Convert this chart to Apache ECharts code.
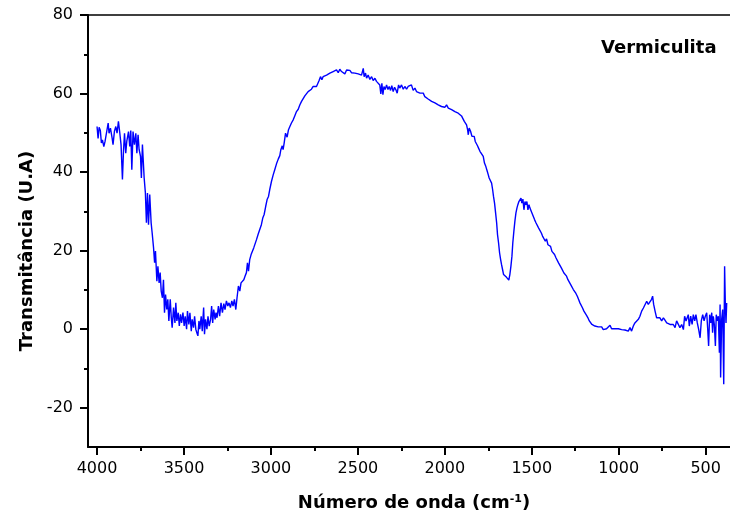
<!DOCTYPE html>
<html>
<head>
<meta charset="utf-8">
<script src="https://cdn.jsdelivr.net/npm/echarts@6/dist/echarts.min.js"></script>
<style>
html,body{margin:0;padding:0;background:#fff;}
#chart{width:730px;height:517px;}
</style>
</head>
<body>
<div id="chart"></div>
<script>
const wavenumber = [
4000,3994,3988,3981,3975,3969,3961,3954,3946,3936,3931,3923,3913,3908,3900,3892,3885,3877,3869,3862,
3854,3848,3842,3835,3829,3819,3812,3806,3800,3793,3785,3777,3771,3764,3758,3750,3745,3739,3735,3729,
3722,3716,3710,3704,3697,3689,3683,3675,3669,3664,3656,3650,3643,3637,3631,3624,3618,3612,3606,3599,
3593,3587,3579,3573,3568,3560,3552,3547,3541,3533,3527,3520,3514,3506,3499,3493,3485,3480,3472,3466,
3458,3453,3445,3439,3432,3426,3420,3414,3409,3401,3395,3387,3382,3376,3368,3362,3355,3347,3341,3335,
3329,3321,3316,3310,3302,3295,3287,3279,3271,3264,3256,3248,3241,3233,3225,3218,3210,3202,3195,3187,
3179,3172,3164,3156,3149,3141,3135,3129,3122,3114,3106,3099,3091,3083,3074,3064,3055,3047,3039,3030,
3022,3014,3007,2997,2987,2978,2968,2958,2949,2943,2935,2930,2924,2916,2907,2899,2891,2882,2872,2863,
2853,2843,2834,2824,2815,2805,2795,2786,2776,2767,2757,2747,2738,2728,2723,2715,2707,2700,2690,2680,
2671,2661,2652,2642,2632,2623,2613,2604,2594,2585,2575,2565,2556,2546,2537,2527,2517,2508,2498,2489,
2479,2469,2464,2456,2450,2441,2431,2421,2412,2402,2393,2383,2374,2368,2362,2356,2350,2343,2335,2327,
2320,2312,2305,2297,2289,2282,2274,2266,2259,2249,2239,2230,2220,2211,2201,2192,2182,2172,2163,2153,
2143,2134,2124,2115,2105,2096,2086,2076,2067,2057,2048,2038,2028,2019,2009,2000,1990,1980,1971,1961,
1952,1942,1932,1923,1913,1904,1894,1888,1881,1875,1869,1865,1860,1852,1844,1837,1831,1825,1817,1812,
1806,1798,1789,1779,1772,1764,1756,1750,1745,1737,1731,1725,1720,1714,1708,1702,1697,1691,1685,1679,
1674,1668,1662,1655,1645,1637,1632,1626,1620,1614,1609,1603,1597,1591,1585,1580,1574,1568,1562,1557,
1551,1545,1539,1534,1528,1522,1516,1511,1505,1499,1492,1484,1476,1468,1461,1453,1445,1438,1430,1422,
1415,1407,1399,1392,1384,1376,1369,1361,1353,1346,1338,1330,1323,1315,1307,1300,1292,1284,1277,1269,
1261,1254,1246,1238,1231,1223,1215,1208,1200,1192,1185,1177,1169,1162,1154,1146,1137,1127,1118,1108,
1098,1089,1079,1070,1060,1050,1041,1031,1022,1012,1002,993,983,974,964,954,945,935,926,916,
907,897,887,878,868,858,849,839,830,820,811,805,799,791,782,772,763,753,743,734,
724,715,705,696,686,676,667,657,648,638,628,621,613,605,600,594,586,578,571,563,
556,548,540,532,525,517,509,502,494,488,483,477,471,465,460,456,450,444,439,433,
427,421,417,414,408,402,396,391,387,383,379
];
const transmittance = [
51.6,48.6,51.4,50.6,47.4,48.2,46.5,47.8,47.5,52.5,49.9,51.2,48.6,47.0,50.4,51.6,49.9,52.9,49.9,47.0,
38.1,45.3,49.9,44.8,47.8,50.3,46.5,50.6,40.6,50.3,47.0,49.9,44.8,49.5,45.7,44.0,38.5,47.0,43.6,38.5,
34.7,27.1,34.7,26.6,34.3,27.1,24.5,20.7,16.9,19.9,12.2,16.0,11.8,14.4,9.7,8.0,12.6,4.2,8.8,5.0,
7.6,2.1,7.6,2.9,0.4,5.5,1.6,6.7,2.1,4.2,0.8,3.8,1.6,4.2,0.8,3.3,0.0,4.6,1.2,4.2,
-0.5,2.5,0.4,3.3,0.0,-0.9,-1.7,2.1,0.0,3.3,-0.5,5.5,-1.3,2.5,0.0,3.3,0.8,2.5,5.9,1.6,
5.0,2.5,4.2,2.9,5.9,3.3,6.7,4.2,6.5,5.0,7.2,5.9,6.7,5.5,7.2,5.9,7.6,5.0,8.0,11.0,
9.7,11.8,12.2,12.6,13.5,14.4,16.9,14.8,17.7,19.0,18.6,20.7,21.1,22.8,24.1,24.5,26.6,28.3,29.2,31.3,
33.0,33.8,35.5,37.6,39.3,40.6,42.1,43.3,44.2,45.7,46.7,45.7,47.4,49.9,48.9,50.8,51.6,52.5,53.3,54.3,
55.4,56.0,57.1,58.0,58.4,59.4,59.7,60.5,60.8,61.1,61.8,62.0,61.8,62.2,63.3,64.3,63.5,64.3,63.9,64.7,
64.5,65.2,64.7,65.6,65.2,66.0,65.3,66.2,65.6,65.9,65.0,66.0,65.6,65.9,65.3,65.8,65.2,65.6,65.0,65.3,
64.7,66.4,64.3,65.2,63.9,64.7,63.6,64.3,63.3,63.9,63.1,63.5,62.2,59.9,62.6,59.7,61.8,61.0,62.2,61.0,
61.8,60.8,62.0,60.5,61.6,61.0,60.1,62.2,61.4,62.2,61.1,61.8,61.1,61.8,61.4,62.2,60.8,61.4,60.5,60.3,
60.1,59.7,60.1,59.2,59.1,58.6,58.8,58.0,58.2,57.6,57.7,57.1,57.4,56.7,56.9,56.5,57.1,56.3,56.7,55.9,
56.0,55.4,55.7,55.0,55.2,54.3,54.2,52.9,53.1,52.0,50.8,49.5,51.2,50.4,49.1,48.7,49.1,47.8,47.4,46.7,
46.1,45.3,44.8,44.0,42.3,41.4,40.2,39.3,38.5,38.1,37.2,35.5,33.8,32.1,29.6,27.1,24.1,22.0,19.4,17.7,
16.5,15.2,13.9,13.5,13.2,13.1,12.5,13.9,16.0,18.6,22.0,24.9,27.5,29.6,30.9,31.7,32.5,33.0,33.4,32.1,
33.1,30.4,32.5,31.7,32.5,30.4,31.7,30.9,31.3,29.6,29.2,27.9,27.1,27.5,25.8,25.4,24.5,23.7,23.5,22.4,
23.0,21.5,21.1,21.1,19.8,19.4,19.0,18.2,17.7,16.9,16.5,15.6,15.2,14.3,14.5,13.5,12.6,12.2,11.4,11.0,
10.1,9.7,9.1,8.4,7.6,6.7,6.3,5.4,4.6,4.2,3.5,2.9,2.1,1.6,1.2,1.0,0.8,0.5,0.6,0.2,
0.6,-0.1,-0.5,0.1,0.6,1.0,0.1,0.4,0.1,0.6,0.1,0.4,-0.1,0.4,-0.2,0.1,-0.5,0.4,-0.5,0.8,
1.6,2.0,2.5,3.3,4.6,5.4,5.9,7.1,6.3,6.7,7.6,8.4,6.3,4.6,2.9,2.5,2.9,2.1,2.9,2.3,
1.6,2.1,1.2,0.8,1.2,0.4,2.1,2.5,0.4,1.2,-0.1,3.3,2.1,2.5,3.7,0.8,3.3,1.2,3.7,2.1,
3.7,1.6,-0.1,-2.2,2.1,3.7,2.1,3.3,4.2,-0.1,-4.3,3.7,1.6,4.2,-0.9,3.3,1.2,-4.3,3.7,2.1,
3.3,-6.0,6.3,-12.3,2.5,5.0,-14.0,16.0,6.7,1.6,6.7
];
const xMajorTicks = [4000, 3500, 3000, 2500, 2000, 1500, 1000, 500];
const xMinorTicks = [3750, 3250, 2750, 2250, 1750, 1250, 750];
const yMajorTicks = [-20, 0, 20, 40, 60, 80];
const yMinorTicks = [-10, 10, 30, 50, 70];
const xTitle = 'Número de onda (cm{s|-1})';
const yTitle = 'Transmitância (U.A)';
const sampleName = 'Vermiculita';

const FONT = 'DejaVu Sans';
const X_MIN = 360, X_MAX = 4052, Y_MIN = -30, Y_MAX = 80;

const chart = echarts.init(document.getElementById('chart'), null, {renderer: 'canvas'});
const black = '#000';
const plain = v => String(v);
const option = {
  animation: false,
  backgroundColor: '#fff',
  title: {
    text: sampleName, left: 601, top: 39, padding: 0,
    textStyle: {fontFamily: FONT, fontWeight: 'bold', fontSize: 18, color: black}
  },
  grid: {left: 88, top: 15, right: 0, bottom: 70},
  xAxis: [
    {
      type: 'value', min: X_MIN, max: X_MAX, inverse: true, position: 'bottom',
      axisLine: {show: true, onZero: false, lineStyle: {color: black, width: 2}},
      axisTick: {show: true, customValues: xMajorTicks, length: 8, lineStyle: {color: black, width: 2}},
      axisLabel: {customValues: xMajorTicks, formatter: plain, margin: 14, color: black, fontFamily: FONT, fontSize: 16},
      splitLine: {show: false},
      name: xTitle, nameLocation: 'middle', nameGap: 47,
      nameTextStyle: {
        fontFamily: FONT, fontWeight: 'bold', fontSize: 18, color: black, padding: [0, 0, 0, 10],
        rich: {s: {fontFamily: FONT, fontWeight: 'bold', fontSize: 11, color: black, verticalAlign: 'top'}}
      }
    },
    {
      type: 'value', min: X_MIN, max: X_MAX, inverse: true, position: 'bottom',
      axisLine: {show: false, onZero: false},
      axisTick: {show: true, customValues: xMinorTicks, length: 4, lineStyle: {color: black, width: 2}},
      axisLabel: {show: false}, splitLine: {show: false}
    },
    {
      type: 'value', min: X_MIN, max: X_MAX, inverse: true, position: 'top',
      axisLine: {show: true, onZero: false, lineStyle: {color: black, width: 1.5}},
      axisTick: {show: false}, axisLabel: {show: false}, splitLine: {show: false}
    }
  ],
  yAxis: [
    {
      type: 'value', min: Y_MIN, max: Y_MAX, position: 'left',
      axisLine: {show: true, onZero: false, lineStyle: {color: black, width: 2}},
      axisTick: {show: true, customValues: yMajorTicks, length: 8, lineStyle: {color: black, width: 2}},
      axisLabel: {customValues: yMajorTicks, formatter: plain, margin: 15, color: black, fontFamily: FONT, fontSize: 16},
      splitLine: {show: false},
      name: yTitle, nameLocation: 'middle', nameGap: 52,
      nameTextStyle: {fontFamily: FONT, fontWeight: 'bold', fontSize: 18, color: black, padding: [0, 40, 0, 0]}
    },
    {
      type: 'value', min: Y_MIN, max: Y_MAX, position: 'left',
      axisLine: {show: false, onZero: false},
      axisTick: {show: true, customValues: yMinorTicks, length: 4, lineStyle: {color: black, width: 2}},
      axisLabel: {show: false}, splitLine: {show: false}
    }
  ],
  series: [{
    type: 'line', xAxisIndex: 0, yAxisIndex: 0,
    data: wavenumber.map((w, i) => [w, transmittance[i]]),
    showSymbol: false, symbol: 'none',
    lineStyle: {color: '#0000ff', width: 1.4},
    emphasis: {disabled: true}
  }]
};
chart.setOption(option);
</script>
</body>
</html>
